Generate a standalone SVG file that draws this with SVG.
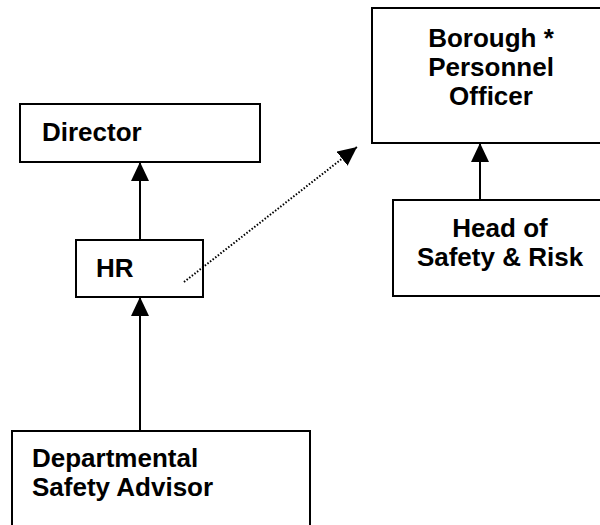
<svg xmlns="http://www.w3.org/2000/svg" width="600" height="525" viewBox="0 0 600 525">
  <defs>
    <marker id="arrow" viewBox="0 0 19 18" refX="19" refY="9" markerWidth="19" markerHeight="18" markerUnits="userSpaceOnUse" orient="auto">
      <path d="M0,0 L19,9 L0,18 z" fill="#000"/>
    </marker>
    <style>
      .box { fill: #fff; stroke: #000; stroke-width: 2; }
      .lbl { font-family: "Liberation Sans", Arial, sans-serif; font-weight: bold; font-size: 26px; fill: #000; }
      .mid { text-anchor: middle; }
      .link { stroke: #000; stroke-width: 2; fill: none; }
      .dot { stroke: #000; stroke-width: 2; stroke-dasharray: 1.5 1.8; fill: none; }
    </style>
  </defs>
  <rect width="600" height="525" fill="#fff"/>

  <g id="borough">
    <rect class="box" x="372" y="8" width="240" height="135"/>
    <text class="lbl mid" x="491" y="47">Borough *</text>
    <text class="lbl mid" x="491" y="76">Personnel</text>
    <text class="lbl mid" x="491" y="105">Officer</text>
  </g>

  <g id="director">
    <rect class="box" x="20" y="104" width="240" height="58"/>
    <text class="lbl" x="42" y="141">Director</text>
  </g>

  <g id="hr">
    <rect class="box" x="76" y="240" width="127" height="57"/>
    <text class="lbl" x="96" y="277">HR</text>
  </g>

  <g id="head-safety">
    <rect class="box" x="393" y="200" width="220" height="96"/>
    <text class="lbl mid" x="500" y="237">Head of</text>
    <text class="lbl mid" x="500" y="266">Safety &amp; Risk</text>
  </g>

  <g id="dept-advisor">
    <rect class="box" x="12" y="431" width="298" height="110"/>
    <text class="lbl" x="32" y="467">Departmental</text>
    <text class="lbl" x="32" y="496">Safety Advisor</text>
  </g>

  <g id="connectors">
    <line class="link" x1="140" y1="240" x2="140" y2="162" marker-end="url(#arrow)"/>
    <line class="link" x1="140" y1="431" x2="140" y2="297" marker-end="url(#arrow)"/>
    <line class="link" x1="480" y1="200" x2="480" y2="143" marker-end="url(#arrow)"/>
    <line class="dot" x1="184" y1="282" x2="357" y2="147" marker-end="url(#arrow)"/>
  </g>
</svg>
